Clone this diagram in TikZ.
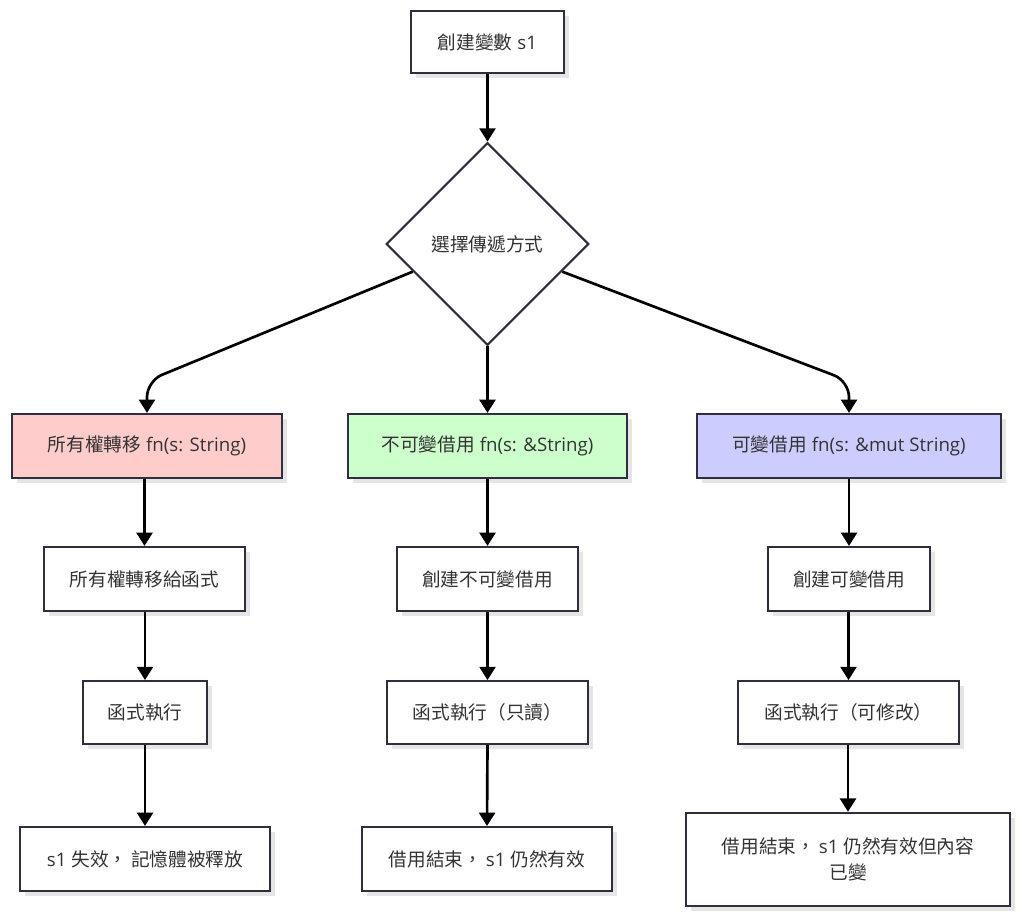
\documentclass[tikz,border=0pt]{standalone}
\usepackage{fontspec}
\setmainfont{Open Sans}
\newfontfamily\cjk{Noto Sans CJK TC}
\newcommand{\zh}[1]{{\cjk #1}}
\usetikzlibrary{arrows.meta,shapes.geometric,shadows,calc}
\definecolor{txt}{HTML}{333333}
\definecolor{bord}{HTML}{2E2E40}
\definecolor{pinkf}{HTML}{FFCCCC}
\definecolor{greenf}{HTML}{CCFFCC}
\definecolor{bluef}{HTML}{CCCCFF}
\tikzset{
  box/.style={draw=bord, line width=1.6pt, fill=white, text=txt, font=\fontsize{14}{19.5}\selectfont,
    inner sep=0pt, align=center,
    general shadow={fill=black!10, shadow xshift=3.5pt, shadow yshift=-3.5pt}},
  dia/.style={draw=bord, line width=1.6pt, fill=white, text=txt, font=\fontsize{14}{19.5}\selectfont,
    diamond, inner sep=0pt, minimum width=152pt, minimum height=152pt},
  conn/.style={draw=black, line width=2pt, -{Triangle[width=12pt,length=10pt]}, rounded corners=12pt}
}
\begin{document}
\begin{tikzpicture}[x=0.75pt,y=-0.75pt]
\useasboundingbox (0,0) rectangle (1024,919);
\node[box, minimum width=115pt, minimum height=46.5pt] (start) at (487.5,42) {\zh{創建變數} s1};
\node[dia] (choose) at (487.5,244) {\zh{選擇傳遞方式}};
% row 1
\node[box, fill=pinkf, minimum width=202.5pt, minimum height=48pt] (own) at (147,446) {\zh{所有權轉移} fn(s: String)};
\node[box, fill=greenf, minimum width=209pt, minimum height=48pt] (imm) at (487.5,446) {\zh{不可變借用} fn(s: \&String)};
\node[box, fill=bluef, minimum width=228pt, minimum height=48pt] (mut) at (849,446) {\zh{可變借用} fn(s: \&mut String)};
% row 2
\node[box, minimum width=151pt, minimum height=48pt] (own2) at (144.5,579) {\zh{所有權轉移給函式}};
\node[box, minimum width=136pt, minimum height=48pt] (imm2) at (487.5,579) {\zh{創建不可變借用}};
\node[box, minimum width=121.5pt, minimum height=48pt] (mut2) at (849,579) {\zh{創建可變借用}};
% row 3
\node[box, minimum width=93pt, minimum height=47pt] (own3) at (145,712.5) {\zh{函式執行}};
\node[box, minimum width=151pt, minimum height=47pt] (imm3) at (487.5,712.5) {\zh{函式執行（只讀）}};
\node[box, minimum width=166pt, minimum height=47pt] (mut3) at (848.5,712.5) {\zh{函式執行（可修改）}};
% row 4
\node[box, minimum width=187.5pt, minimum height=48pt] (own4) at (145,859) {s1 \zh{失效，\hspace{0.2em}記憶體被釋放}};
\node[box, minimum width=187.5pt, minimum height=48pt] (imm4) at (487,859) {\zh{借用結束，\hspace{0.2em}}s1 \zh{仍然有效}};
\node[box, minimum width=243pt, minimum height=70pt] (mut4) at (848,859.5) {\zh{借用結束，\hspace{0.2em}}s1 \zh{仍然有效但內容}\\\zh{已變}};
% connectors
\draw[conn] (start.south) -- (choose.north);
\draw[conn] ($(choose.west)!0.27!(choose.south)$) -- (147,381) -- (own.north);
\draw[conn] (choose.south) -- (imm.north);
\draw[conn] ($(choose.east)!0.27!(choose.south)$) -- (849,381) -- (mut.north);
\draw[conn] (own.south -| own2.north) -- (own2.north);
\draw[conn] (imm.south) -- (imm2.north);
\draw[conn] (mut.south) -- (mut2.north);
\draw[conn] (own2.south -| own3.north) -- (own3.north);
\draw[conn] (imm2.south) -- (imm3.north);
\draw[conn] (mut2.south -| mut3.north) -- (mut3.north);
\draw[conn] (own3.south) -- (own4.north);
\draw[conn] (imm3.south) -- (imm4.north);
\draw[conn] (mut3.south -| mut4.north) -- (mut4.north);
\end{tikzpicture}
\end{document}
